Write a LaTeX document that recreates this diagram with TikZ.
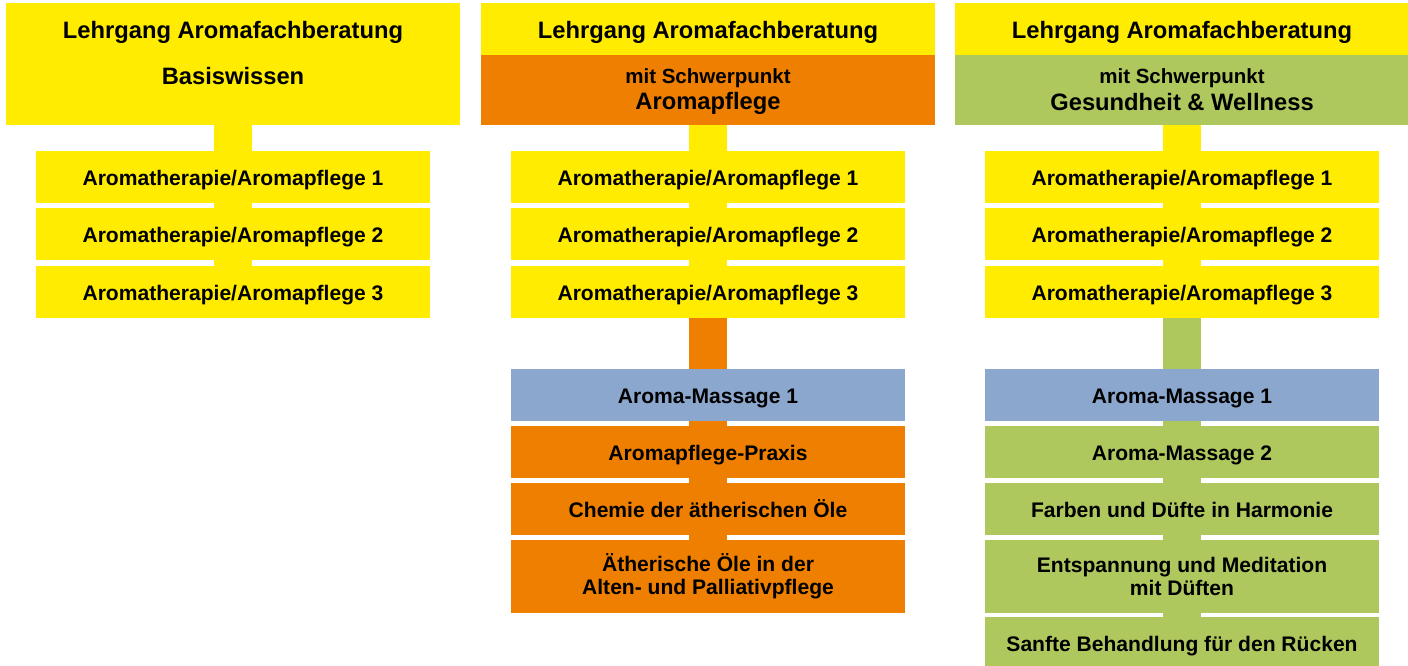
\documentclass[tikz,border=0pt]{standalone}
\usepackage{fontspec}
\setmainfont{Liberation Sans}
\usetikzlibrary{backgrounds}
\definecolor{ylw}{HTML}{FFEC00}
\definecolor{org}{HTML}{EE7F00}
\definecolor{grn}{HTML}{AFC85E}
\definecolor{blu}{HTML}{8BA7CE}
\begin{document}
\begin{tikzpicture}[x=0.75pt,y=-0.75pt,
  boxbase/.style={inner sep=0pt, outer sep=0pt, draw=none, align=center,
    font=\bfseries\fontsize{15.8pt}{17.25pt}\selectfont, minimum width=295.5pt},
  sub/.style={boxbase, minimum height=39pt, text height=12.5pt, text depth=0pt},
  subtwo/.style={boxbase, minimum height=54.75pt},
  hdr/.style={inner sep=0pt, outer sep=0pt, draw=none, minimum width=340.5pt},
  htxt/.style={anchor=base, inner sep=0pt, font=\bfseries\fontsize{17.8pt}{20pt}\selectfont},
  stxt/.style={anchor=base, inner sep=0pt, font=\bfseries\fontsize{15.4pt}{18pt}\selectfont},
  conn/.style={line width=28.5pt}
]
\useasboundingbox (0,0) rectangle (1408,666);

% Column 1
\node[hdr, fill=ylw, minimum height=91.5pt] (h1) at (233,64) {};
\node[htxt] (h1t) at (233,38.5) {Lehrgang Aromafachberatung};
\node[htxt] (h1s) at (233,84.5) {Basiswissen};
\node[sub, fill=ylw] (a1) at (233,177) {Aromatherapie/Aromapflege 1};
\node[sub, fill=ylw] (a2) at (233,234) {Aromatherapie/Aromapflege 2};
\node[sub, fill=ylw] (a3) at (233,292) {Aromatherapie/Aromapflege 3};

% Column 2
\node[hdr, fill=ylw, minimum height=39pt] (h2a) at (708,29) {};
\node[hdr, fill=org, minimum height=52.5pt] (h2b) at (708,90) {};
\node[htxt] (h2t) at (708,38.5) {Lehrgang Aromafachberatung};
\node[stxt] (h2m) at (708,83.5) {mit Schwerpunkt};
\node[htxt] (h2s) at (708,109.5) {Aromapflege};
\node[sub, fill=ylw] (b1) at (708,177) {Aromatherapie/Aromapflege 1};
\node[sub, fill=ylw] (b2) at (708,234) {Aromatherapie/Aromapflege 2};
\node[sub, fill=ylw] (b3) at (708,292) {Aromatherapie/Aromapflege 3};
\node[sub, fill=blu] (b4) at (708,395) {Aroma-Massage 1};
\node[sub, fill=org] (b5) at (708,452) {Aromapflege-Praxis};
\node[sub, fill=org] (b6) at (708,509) {Chemie der ätherischen Öle};
\node[subtwo, fill=org] (b7) at (708,576) {Ätherische Öle in der\\Alten- und Palliativpflege};

% Column 3
\node[hdr, fill=ylw, minimum height=39pt] (h3a) at (1182,29) {};
\node[hdr, fill=grn, minimum height=52.5pt] (h3b) at (1182,90) {};
\node[htxt] (h3t) at (1182,38.5) {Lehrgang Aromafachberatung};
\node[stxt] (h3m) at (1182,83.5) {mit Schwerpunkt};
\node[htxt] (h3s) at (1182,110.5) {Gesundheit \& Wellness};
\node[sub, fill=ylw] (c1) at (1182,177) {Aromatherapie/Aromapflege 1};
\node[sub, fill=ylw] (c2) at (1182,234) {Aromatherapie/Aromapflege 2};
\node[sub, fill=ylw] (c3) at (1182,292) {Aromatherapie/Aromapflege 3};
\node[sub, fill=blu] (c4) at (1182,395) {Aroma-Massage 1};
\node[sub, fill=grn] (c5) at (1182,452) {Aroma-Massage 2};
\node[sub, fill=grn] (c6) at (1182,509) {Farben und Düfte in Harmonie};
\node[subtwo, fill=grn] (c7) at (1182,576) {Entspannung und Meditation\\mit Düften};
\node[sub, fill=grn] (c8) at (1182,643) {Sanfte Behandlung für den Rücken};

\begin{pgfonlayer}{background}
  \draw[conn, ylw] (h1) -- (a1) (a1) -- (a2) (a2) -- (a3);
  \draw[conn, ylw] (h2b) -- (b1) (b1) -- (b2) (b2) -- (b3);
  \draw[conn, org] (b3) -- (b4) (b4) -- (b5) (b5) -- (b6) (b6) -- (b7);
  \draw[conn, ylw] (h3b) -- (c1) (c1) -- (c2) (c2) -- (c3);
  \draw[conn, grn] (c3) -- (c4) (c4) -- (c5) (c5) -- (c6) (c6) -- (c7) (c7) -- (c8);
\end{pgfonlayer}
\end{tikzpicture}
\end{document}
